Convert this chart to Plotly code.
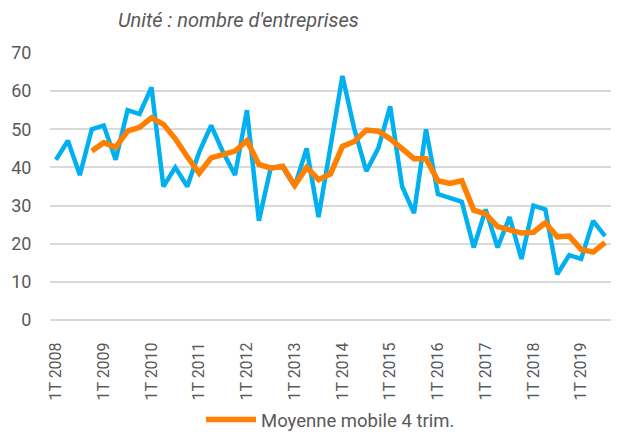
import plotly.graph_objects as go

years = list(range(2008, 2020))
categories = [f"{q}T {y}" for y in years for q in range(1, 5)][:47]

entreprises = [42, 47, 38, 50,
               51, 42, 55, 54,
               61, 35, 40, 35,
               44, 51, 44, 38,
               55, 26, 40, 40,
               35, 45, 27, 46,
               64, 50, 39, 45,
               56, 35, 28, 50,
               33, 32, 31, 19,
               29, 19, 27, 16,
               30, 29, 12, 17,
               16, 26, 22]

moyenne_mobile = [None, None, None, 44.3,
                  46.5, 45.3, 49.5, 50.5,
                  53.0, 51.3, 47.5, 42.8,
                  38.5, 42.5, 43.5, 44.3,
                  47.0, 40.8, 39.8, 40.3,
                  35.3, 40.0, 36.8, 38.3,
                  45.5, 46.8, 49.8, 49.5,
                  47.5, 44.8, 42.3, 42.3,
                  36.5, 35.8, 36.5, 28.8,
                  27.8, 24.5, 23.5, 22.8,
                  23.0, 25.5, 21.8, 22.0,
                  18.5, 17.8, 20.3]

tick_labels = [f"1T {y}" for y in years]

x_idx = list(range(len(categories)))
tick_idx = [i for i, c in enumerate(categories) if c.startswith("1T")]

FONT = "Roboto, 'Open Sans', sans-serif"
GREY = "#595959"

fig = go.Figure()
fig.add_trace(go.Scatter(
    x=x_idx, y=entreprises, mode="lines", name="",
    line=dict(color="#00B0F0", width=4.5), showlegend=False,
    customdata=categories, hovertemplate="%{customdata}: %{y}<extra></extra>"))
fig.add_trace(go.Scatter(
    x=x_idx, y=moyenne_mobile, mode="lines", name="Moyenne mobile 4 trim.",
    line=dict(color="#FF8000", width=5.5), showlegend=True,
    customdata=categories, hovertemplate="%{customdata}: %{y}<extra></extra>"))

fig.update_layout(
    width=618, height=432,
    margin=dict(l=50, r=7, t=53, b=112, autoexpand=False),
    paper_bgcolor="white", plot_bgcolor="white",
    font=dict(family=FONT, size=18, color=GREY),
    legend=dict(orientation="h", x=0.5, xanchor="center", y=-0.374, yanchor="middle",
                font=dict(size=18.5, color=GREY), itemwidth=50),
    annotations=[dict(text="<i>Unité : nombre d'entreprises</i>", xref="paper", yref="paper",
                      x=0.118, y=1.125, xanchor="left", yanchor="middle", showarrow=False,
                      font=dict(size=20, color=GREY))],
)
fig.update_xaxes(range=[-0.5, 46.5], tickmode="array", tickvals=tick_idx, ticktext=tick_labels,
                 tickangle=-90, showgrid=False, showline=False, zeroline=False, automargin=False,
                 ticks="outside", ticklen=15, tickcolor="rgba(0,0,0,0)",
                 tickfont=dict(size=16, color=GREY))
fig.update_yaxes(range=[0, 70], tickvals=[0, 10, 20, 30, 40, 50, 60, 70], automargin=False,
                 showgrid=True, gridcolor="#D9D9D9", gridwidth=1.5,
                 zeroline=True, zerolinecolor="#D9D9D9", zerolinewidth=1.5,
                 showline=False, ticks="outside", ticklen=14, tickcolor="rgba(0,0,0,0)",
                 tickfont=dict(size=18, color=GREY))

fig.write_html("out.html", config={"displayModeBar": False},
               post_script="document.body.style.margin='0';document.body.style.padding='0';")
